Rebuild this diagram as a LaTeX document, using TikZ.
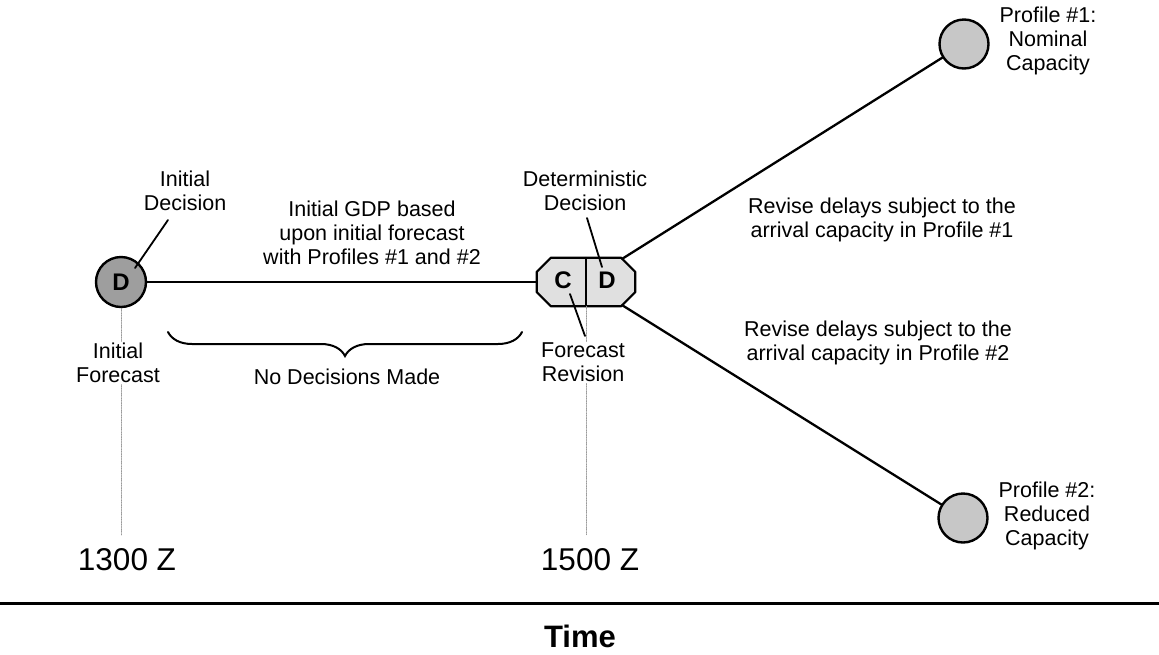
\documentclass[tikz,border=0pt]{standalone}
\usepackage{fontspec}
\setmainfont{Liberation Sans}
\usepackage{tikz}
\usetikzlibrary{decorations.pathreplacing, calc}
\tikzset{
	lbl/.style={align=center, font=\fontsize{21.5}{24}\selectfont, inner sep=1pt},
	whiteLbl/.style={lbl, fill=white},
	bigLbl/.style={font=\fontsize{31.5}{34}\selectfont, inner sep=0pt},
	outcome/.style={circle, draw, line width=2.4pt, minimum size=49pt, inner sep=0pt, fill=black!22},
	guide/.style={gray!80, densely dotted, line width=0.7pt},
	branch/.style={line width=2.3pt},
	letter/.style={font=\fontsize{24}{26}\selectfont\bfseries},
}

\begin{document}
\begin{tikzpicture}[x=1pt, y=-1pt, line cap=round]

	\useasboundingbox (0,0) rectangle (1159,654);

	% decision and chance nodes
	\node[outcome, fill=black!38, minimum size=50pt, letter] (dec0) at (121,282) {D};
	\node[minimum width=98pt, minimum height=48pt, inner sep=0pt] (cd) at (586,282) {};
	\filldraw[fill=black!12, line width=2.2pt, line join=round]
		($(cd.north west)+(14,0)$) -- ($(cd.north east)+(-14,0)$) -- ($(cd.north east)+(0,14)$)
		-- ($(cd.south east)+(0,-14)$) -- ($(cd.south east)+(-14,0)$) -- ($(cd.south west)+(14,0)$)
		-- ($(cd.south west)+(0,-14)$) -- ($(cd.north west)+(0,14)$) -- cycle;
	\draw[line width=2pt] (cd.north) -- (cd.south);
	\node[letter] (cLetter) at (563,280) {C};
	\node[letter] (dLetter) at (607,280) {D};

	\node[outcome] (prof1) at (964,44) {};
	\node[outcome] (prof2) at (963,518) {};

	% branches
	\draw[branch] (dec0) -- (cd);
	\draw[branch] ($(cd.north east)+(-13,1)$) -- (prof1);
	\draw[branch] ($(cd.south east)+(-13,-1)$) -- (prof2);

	% time guides
	\coordinate (guideA) at (121,535);
	\coordinate (guideB) at (586,535);
	\draw[guide] (dec0.south) -- (guideA);
	\draw[guide] (cd.south) -- (guideB);

	% labels
	\node[lbl] (lblInitDec) at (185,191) {Initial\\Decision};
	\node[lbl] (lblDetDec) at (585,191) {Deterministic\\Decision};
	\node[whiteLbl] (lblInitFc) at (118,363) {Initial\\Forecast};
	\node[whiteLbl] (lblFcRev) at (583,362) {Forecast\\Revision};
	\node[lbl] (lblInitGDP) at (372,233) {Initial GDP based\\upon initial forecast\\with Profiles \#1 and \#2};
	\node[lbl] (lblRevise1) at (882,220) {Revise delays subject to the\\arrival capacity in Profile \#1};
	\node[lbl] (lblRevise2) at (878,343) {Revise delays subject to the\\arrival capacity in Profile \#2};
	\node[lbl] (lblProf1) at (1048,41) {Profile \#1:\\Nominal\\Capacity};
	\node[lbl] (lblProf2) at (1047,516) {Profile \#2:\\Reduced\\Capacity};
	\node[lbl] (lblNoDec) at (347,377) {No Decisions Made};

	% pointers
	\coordinate (ptInitDec) at (168,220);
	\coordinate (ptDetDec) at (587,218);
	\coordinate (ptFcRev) at (585,336);
	\draw[line width=1.8pt] (ptInitDec) -- ($(dec0)+(14,-14)$);
	\draw[line width=1.8pt] (ptDetDec) -- ($(dLetter)+(-5,-13)$);
	\draw[line width=1.8pt] (ptFcRev) -- ($(cLetter)+(7,14)$);

	% brace
	\coordinate (braceL) at (168,332);
	\coordinate (braceR) at (522,332);
	\draw[decorate, decoration={brace, amplitude=24pt, mirror}, line width=2pt] (braceL) -- (braceR);

	% time axis
	\node[bigLbl] (t1300) at (127,560) {1300 Z};
	\node[bigLbl] (t1500) at (590,560) {1500 Z};
	\coordinate (axisL) at (0,603);
	\coordinate (axisR) at (1159,603);
	\draw[line width=3pt, line cap=butt] (axisL) -- (axisR);
	\node[bigLbl, font=\fontsize{31}{34}\selectfont\bfseries] (lblTime) at (580,636) {Time};

\end{tikzpicture}
\end{document}
